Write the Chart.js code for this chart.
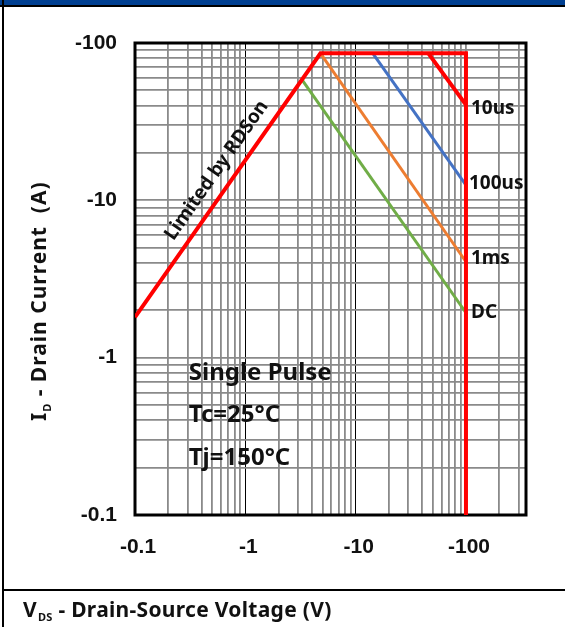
<!DOCTYPE html>
<html>
<head>
<meta charset="utf-8">
<script src="https://cdn.jsdelivr.net/npm/chart.js@4.4.0/dist/chart.umd.min.js"></script>
<style>
html,body{margin:0;padding:0;background:#fff;}
#wrap{width:565px;height:627px;}
</style>
</head>
<body>
<div id="wrap"><canvas id="c" width="565" height="627"></canvas></div>
<script>
// ---- data ----
const xTickValues = [0.1,0.2,0.3,0.4,0.5,0.6,0.7,0.8,0.9,1,2,3,4,5,6,7,8,9,10,20,30,40,50,60,70,80,90,100,200,300];
const xLabelValues = [0.1, 1, 10, 100];
const yTickValues = [0.1,0.2,0.3,0.4,0.5,0.6,0.7,0.8,0.9,1,2,3,4,5,6,7,8,9,10,20,30,40,50,60,70,80,90,100];
const yLabelValues = [0.1, 1, 10, 100];

const limitV = [0.1, 4.8, 100, 100];
const limitI = [1.81, 86, 86, 0.1];
const us10V = [45.6, 100];
const us10I = [86, 40.4];
const us100V = [14.3, 100];
const us100I = [86, 12.5];
const ms1V = [4.8, 100];
const ms1I = [86, 4.07];
const dcV = [3.27, 100];
const dcI = [58.2, 1.93];

const seriesLabels = ['10us', '100us', '1ms', 'DC'];
const seriesLabelI = [38.3, 12.8, 4.24, 1.94];

function pts(xs, ys){ return xs.map((x,i)=>({x:x, y:ys[i]})); }

const tickFont = {family:'"Liberation Sans", Arial, sans-serif', size:21, weight:'bold'};
const humanist = '"Noto Sans", "Open Sans", sans-serif';

const framePlugin = {
  id:'frame',
  beforeDraw(chart){
    const c = chart.ctx;
    c.save();
    c.fillStyle = '#fff';
    c.fillRect(0,0,chart.width,chart.height);
    c.fillStyle = '#003f91';
    c.fillRect(0,0,chart.width,5);
    c.fillStyle = '#000';
    c.fillRect(0,5,chart.width,2);
    c.fillRect(2,0,2,chart.height);
    c.fillRect(2,589,chart.width,2);
    c.restore();
  },
  beforeDatasetsDraw(chart){
    const c = chart.ctx, a = chart.chartArea;
    c.save();
    c.strokeStyle = '#000';
    c.lineWidth = 3;
    c.strokeRect(a.left, a.top, a.right - a.left, a.bottom - a.top);
    c.restore();
  },
  afterDraw(chart){
    const c = chart.ctx, xs = chart.scales.x, ys = chart.scales.y;
    c.save();
    c.fillStyle = '#111';
    // end labels
    c.font = 'bold 19px ' + humanist;
    c.textAlign = 'left';
    c.textBaseline = 'middle';
    const endsV = [us10V, us100V, ms1V, dcV];
    endsV.forEach((s,i)=>{
      const xv = s[s.length-1];
      c.fillText(seriesLabels[i], xs.getPixelForValue(xv)+(i===1?3:5), ys.getPixelForValue(seriesLabelI[i]));
    });
    // Limited by RDSon
    const p0x = xs.getPixelForValue(limitV[0]), p0y = ys.getPixelForValue(limitI[0]);
    const p1x = xs.getPixelForValue(limitV[1]), p1y = ys.getPixelForValue(limitI[1]);
    const ang = Math.atan2(p1y-p0y, p1x-p0x);
    c.save();
    c.translate(xs.getPixelForValue(0.55), ys.getPixelForValue(15.5));
    c.rotate(ang);
    c.font = 'bold 19px ' + humanist;
    c.textAlign = 'center';
    c.fillText('Limited by RDSon', 0, 0);
    c.restore();
    // conditions
    c.font = 'bold 24px ' + humanist;
    c.textAlign = 'left';
    const tx = xs.getPixelForValue(0.307);
    c.fillText('Single Pulse', tx, ys.getPixelForValue(0.80));
    c.fillText('Tc=25°C', tx, ys.getPixelForValue(0.43));
    c.fillText('Tj=150°C', tx, ys.getPixelForValue(0.23));
    // x title
    c.font = 'bold 21px ' + humanist;
    c.textBaseline = 'alphabetic';
    c.letterSpacing = '0.3px';
    let x = 23, y = 617;
    c.fillText('V', x, y); x += c.measureText('V').width;
    c.font = 'bold 11px ' + humanist;
    c.fillText('DS', x+1, y+4); x += c.measureText('DS').width + 1;
    c.font = 'bold 21px ' + humanist;
    c.fillText(' - Drain-Source Voltage (V)', x, y);
    // y title
    c.save();
    c.letterSpacing = '1px';
    c.translate(46, 421);
    c.rotate(-Math.PI/2);
    c.font = 'bold 21px ' + humanist;
    let t = 0;
    c.fillText('I', t, 0); t += c.measureText('I').width;
    c.font = 'bold 11px ' + humanist;
    c.fillText('D', t, 5); t += c.measureText('D').width;
    c.font = 'bold 21px ' + humanist;
    c.fillText(' - Drain Current  (A)', t, 0);
    c.restore();
    c.restore();
  }
};

const gray = '#8a8a8a';

new Chart(document.getElementById('c'), {
  type:'line',
  data:{
    datasets:[
      {data:pts(limitV,limitI), borderColor:'#ff0000', borderWidth:4},
      {data:pts(us10V,us10I), borderColor:'#ff0000', borderWidth:4},
      {data:pts(us100V,us100I), borderColor:'#4472c4', borderWidth:3},
      {data:pts(ms1V,ms1I), borderColor:'#ed7d31', borderWidth:3},
      {data:pts(dcV,dcI), borderColor:'#70ad47', borderWidth:3}
    ]
  },
  options:{
    responsive:false,
    animation:false,
    devicePixelRatio:1,
    layout:{padding:{left:0, top:43, right:39, bottom:0}},
    elements:{point:{radius:0}, line:{tension:0, borderCapStyle:'butt', borderJoinStyle:'miter'}},
    plugins:{legend:{display:false}, tooltip:{enabled:false}},
    scales:{
      x:{
        type:'logarithmic', min:0.1, max:350,
        afterBuildTicks(s){ s.ticks = xTickValues.map(v=>({value:v})); },
        afterFit(s){ s.height = 112; },
        border:{display:false},
        grid:{
          drawTicks:false,
          color:(c)=> (c.tick && (c.tick.value===1 || c.tick.value===10)) ? '#000' : gray,
          lineWidth:(c)=> (c.tick && (c.tick.value===1 || c.tick.value===10)) ? 1 : 1.8
        },
        ticks:{
          autoSkip:false, maxRotation:0, minRotation:0, padding:20, labelOffset:3,
          color:'#111', font:tickFont,
          callback:(v)=> xLabelValues.includes(v) ? '-' + v : ''
        }
      },
      y:{
        type:'logarithmic', min:0.1, max:100,
        afterBuildTicks(s){ s.ticks = yTickValues.map(v=>({value:v})); },
        afterFit(s){ s.width = 135; },
        border:{display:false},
        grid:{drawTicks:false, color:gray, lineWidth:1.8},
        ticks:{
          autoSkip:false, padding:18,
          color:'#111', font:tickFont,
          callback:(v)=> yLabelValues.includes(v) ? '-' + v : ''
        }
      }
    }
  },
  plugins:[framePlugin]
});
</script>
</body>
</html>
